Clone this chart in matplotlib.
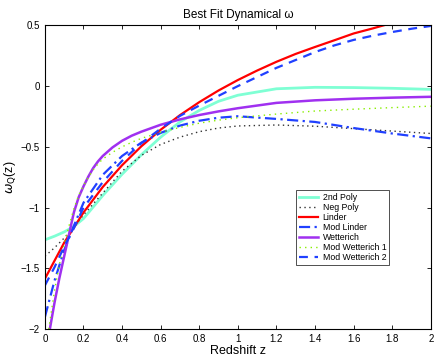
import numpy as np
import matplotlib
matplotlib.use("Agg")
import matplotlib.pyplot as plt

plt.rcParams['font.family'] = ['Liberation Sans', 'DejaVu Sans']

# redshift grid
z = [0, 0.05, 0.1, 0.15, 0.2, 0.3, 0.4, 0.5, 0.6, 0.7, 0.8, 0.9, 1.0,
     1.2, 1.4, 1.6, 1.8, 2.0]
poly2 = [-1.265, -1.235, -1.20, -1.155, -1.09, -0.90, -0.725, -0.565, -0.42, -0.295,
         -0.20, -0.125, -0.075, -0.022, -0.010, -0.012, -0.018, -0.027]
negpoly = [-1.40, -1.33, -1.25, -1.16, -1.06, -0.88, -0.70, -0.57, -0.48, -0.42,
           -0.375, -0.345, -0.328, -0.32, -0.33, -0.35, -0.37, -0.39]
modlinder = [-1.90, -1.60, -1.35, -1.15, -0.96, -0.73, -0.575, -0.465, -0.385, -0.325,
             -0.285, -0.26, -0.248, -0.27, -0.295, -0.345, -0.39, -0.43]

z_lin = [0, 0.1, 0.2, 0.3, 0.4, 0.5, 0.6, 0.7, 0.8, 0.9, 1.0, 1.1, 1.2, 1.3,
         1.4, 1.5, 1.6, 1.7, 1.8]
linder = [-1.585, -1.288, -1.04, -0.83, -0.651, -0.495, -0.359, -0.239, -0.132, -0.036,
          0.05, 0.128, 0.2, 0.265, 0.322, 0.377, 0.433, 0.475, 0.52]

z_mw2 = [0, 0.05, 0.1, 0.15, 0.2, 0.3, 0.4, 0.5, 0.6, 0.7, 0.8, 0.9, 1.0, 1.1,
         1.2, 1.3, 1.4, 1.5, 1.6, 1.7, 1.8, 1.9, 2.0]
modwet2 = [-1.64, -1.49, -1.32, -1.17, -1.00, -0.79, -0.615, -0.47, -0.35, -0.245,
           -0.16, -0.08, 0.0, 0.075, 0.15, 0.215, 0.28, 0.335, 0.38, 0.415, 0.445,
           0.472, 0.495]

z_wet = [0.02, 0.05, 0.075, 0.1, 0.125, 0.15, 0.175, 0.2, 0.225, 0.25, 0.275, 0.3,
         0.35, 0.4, 0.45, 0.5, 0.6, 0.7, 0.8, 0.9, 1.0, 1.2, 1.4, 1.6, 1.8, 2.0]
wetterich = [-2.05, -1.78, -1.58, -1.40, -1.22, -1.04, -0.915, -0.825, -0.745, -0.675,
             -0.62, -0.575, -0.505, -0.45, -0.408, -0.375, -0.318, -0.274, -0.238,
             -0.208, -0.182, -0.138, -0.117, -0.104, -0.095, -0.088]
modwet1 = [-2.0, -1.68, -1.47, -1.30, -1.15, -1.01, -0.90, -0.82, -0.75, -0.69,
           -0.64, -0.60, -0.545, -0.50, -0.462, -0.43, -0.38, -0.34, -0.305, -0.28,
           -0.26, -0.23, -0.205, -0.19, -0.177, -0.165]

fig = plt.figure(figsize=(4.36, 3.57), dpi=100)
ax = fig.add_axes([0.103, 0.078, 0.885, 0.851])

ax.plot(z, poly2, color='#7fffd4', lw=2, label='2nd Poly')
ax.plot(z, negpoly, color='#333333', lw=1, ls=(0, (1, 2.5)), label='Neg Poly')
ax.plot(z_lin, linder, color='red', lw=1.6, label='Linder')
ax.plot(z, modlinder, color='#2040ff', lw=1.6, ls=(0, (5, 2, 1, 2)), label='Mod Linder')
ax.plot(z_wet, wetterich, color='#a030f0', lw=1.8, label='Wetterich')
ax.plot(z_wet, modwet1, color='#88ee00', lw=1, ls=(0, (1, 3)), label='Mod Wetterich 1')
ax.plot(z_mw2, modwet2, color='#2040ff', lw=1.6, ls=(0, (4, 3)), label='Mod Wetterich 2')

ax.set_xlim(0, 2)
ax.set_ylim(-2, 0.5)
ax.set_xticks(np.arange(0, 2.01, 0.2))
ax.set_xticklabels(['0', '0.2', '0.4', '0.6', '0.8', '1', '1.2', '1.4', '1.6', '1.8', '2'])
ax.set_yticks([-2, -1.5, -1, -0.5, 0, 0.5])
ax.set_yticklabels(['\u22122', '\u22121.5', '\u22121', '\u22120.5', '0', '0.5'])
ax.tick_params(direction='in', top=True, right=True, labelsize=7, length=3, width=0.6)
for s in ax.spines.values():
    s.set_linewidth(0.8)

ax.set_title('Best Fit Dynamical \u03c9', fontsize=8.5, pad=5)
ax.set_xlabel('Redshift z', fontsize=9, labelpad=1)
ax.set_ylabel(r'$\omega_{\mathrm{Q}}$(z)', fontsize=9, labelpad=2)

leg = ax.legend(loc='upper left', bbox_to_anchor=(0.652, 0.457), fontsize=6.3,
                frameon=True, fancybox=False, edgecolor='black', handlelength=2.2,
                borderpad=0.3, labelspacing=0.12, handletextpad=0.5, borderaxespad=0)
leg.get_frame().set_linewidth(0.6)

fig.savefig('out.png', dpi=100)
